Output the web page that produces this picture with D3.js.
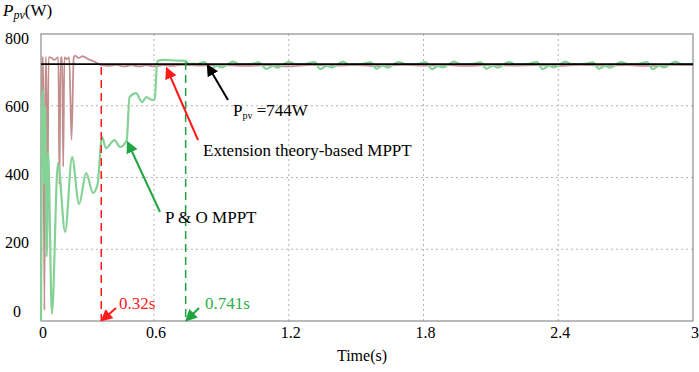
<!DOCTYPE html>
<html>
<head>
<meta charset="utf-8">
<script src="https://cdn.jsdelivr.net/npm/d3@7"></script>
<style>
  body { margin: 0; background: #fff; }
</style>
</head>
<body>
<div class="chart"></div>
<script>
// data
const xTicks = [0, 0.6, 1.2, 1.8, 2.4, 3];
const yTicks = [0, 200, 400, 600, 800];
const refPower = 716; // drawn level of the 744W reference line

// Extension theory-based MPPT (time s, power W)
const etTime = [0, 0.006, 0.012, 0.018, 0.024, 0.028, 0.034, 0.04, 0.046, 0.052, 0.07, 0.092, 0.098, 0.104, 0.112, 0.118, 0.124, 0.138, 0.15, 0.162, 0.174, 0.182, 0.2, 0.22, 0.25, 0.28, 0.3, 0.32,
  0.36, 0.4, 0.44, 0.48, 0.52, 0.56, 0.6, 0.64, 0.68, 0.72, 0.8, 0.9, 1.0, 1.1, 1.2, 1.3, 1.4, 1.5, 1.6, 1.7, 1.8, 1.9, 2.0, 2.1, 2.2, 2.3, 2.4, 2.5, 2.6, 2.7, 2.8, 2.9, 3.0];
const etPower = [0, 735, 735, 30, 735, 735, 200, 735, 735, 735, 728, 735, 380, 735, 735, 430, 735, 730, 735, 505, 735, 740, 733, 738, 730, 724, 718, 713,
  711, 714, 710, 713, 710, 713, 710, 713, 711, 714, 712, 714, 711, 713, 710, 714, 712, 713, 711, 714, 712, 713, 711, 714, 712, 713, 711, 714, 712, 713, 711, 714, 713];

// P&O MPPT (time s, power W)
const poTime = [0, 0.004, 0.01, 0.016, 0.022, 0.03, 0.038, 0.058, 0.09, 0.128, 0.165, 0.202, 0.24, 0.276, 0.3, 0.324, 0.345, 0.39, 0.42, 0.455, 0.47, 0.505, 0.536, 0.56, 0.59, 0.603, 0.615, 0.65, 0.7, 0.741, 0.755, 0.77,
  0.79, 0.825, 0.85, 0.88, 0.9, 0.93, 0.95, 0.98, 1.04,
  1.065, 1.10, 1.13, 1.15, 1.18, 1.2, 1.23, 1.28,
  1.315, 1.34, 1.37, 1.39, 1.42, 1.44, 1.47, 1.53,
  1.565, 1.59, 1.62, 1.64, 1.67, 1.69, 1.72, 1.78,
  1.81, 1.837, 1.865, 1.885, 1.915, 1.935, 1.965, 2.02,
  2.055, 2.08, 2.11, 2.13, 2.16, 2.18, 2.21, 2.27,
  2.305, 2.33, 2.36, 2.38, 2.41, 2.43, 2.46, 2.52,
  2.555, 2.58, 2.61, 2.63, 2.66, 2.68, 2.71, 2.76,
  2.795, 2.82, 2.85, 2.87, 2.9, 2.92, 2.95, 3.0];
const poPower = [0, 520, 645, 380, 600, 180, 470, 20, 440, 248, 457, 326, 412, 357, 380, 513, 482, 504, 485, 504, 624, 635, 610, 624, 616, 618, 725, 728, 726, 725, 716, 717,
  716, 722, 702, 712, 707, 716, 723, 716, 717,
  721, 703, 711, 706, 716, 722, 716, 717,
  722, 702, 712, 707, 716, 723, 715, 717,
  721, 703, 712, 706, 716, 722, 716, 717,
  722, 702, 711, 707, 716, 723, 716, 717,
  721, 703, 712, 706, 716, 722, 715, 717,
  722, 702, 712, 707, 716, 723, 716, 717,
  721, 703, 711, 706, 716, 722, 716, 717,
  722, 702, 712, 707, 716, 723, 716, 717];

const etSettle = 0.32;
const poSettle = 0.741;

const width = 699, height = 372;

const svg = d3.select('.chart')
  .append('svg')
  .attr('width', width)
  .attr('height', height)
  .attr('font-family', '"Times New Roman", "Liberation Serif", "DejaVu Serif", serif');

// first 0.6 s is squeezed in the original figure
const x = d3.scaleLinear()
  .domain([0, 0.6, 3])
  .range([41, 154, 693]);

const y = d3.scaleLinear()
  .domain([0, 800])
  .range([321, 34]);

// the tick labels sit slightly off the grid in the original
const yLabel = d3.scaleLinear()
  .domain([0, 800])
  .range([311, 38]);

// grid
svg.append('g')
  .selectAll('line')
  .data(xTicks.filter(d => d > 0 && d < 3))
  .enter().append('line')
    .attr('x1', d => x(d)).attr('x2', d => x(d))
    .attr('y1', y(800)).attr('y2', y(0))
    .attr('stroke', '#b5b5b5')
    .attr('stroke-width', 1)
    .attr('stroke-dasharray', '2,3');

svg.append('g')
  .selectAll('line')
  .data(yTicks.filter(d => d > 0 && d < 800))
  .enter().append('line')
    .attr('x1', x(0)).attr('x2', x(3))
    .attr('y1', d => y(d)).attr('y2', d => y(d))
    .attr('stroke', '#b5b5b5')
    .attr('stroke-width', 1)
    .attr('stroke-dasharray', '2,3');

// frame
svg.append('rect')
  .attr('x', x(0)).attr('y', y(800))
  .attr('width', x(3) - x(0))
  .attr('height', y(0) - y(800))
  .attr('fill', 'none')
  .attr('stroke', '#8c8c8c')
  .attr('stroke-width', 1.2);

// tick labels
svg.append('g')
  .selectAll('text')
  .data(xTicks)
  .enter().append('text')
    .attr('x', d => x(d) + 2)
    .attr('y', 332)
    .attr('dy', '0.35em')
    .attr('text-anchor', 'middle')
    .attr('font-size', 16)
    .text(d => d);

svg.append('g')
  .selectAll('text')
  .data(yTicks)
  .enter().append('text')
    .attr('x', 17)
    .attr('y', d => yLabel(d))
    .attr('dy', '0.35em')
    .attr('text-anchor', 'middle')
    .attr('font-size', 16)
    .text(d => d);

// axis titles
const yTitle = svg.append('text')
  .attr('x', 3).attr('y', 16)
  .attr('font-size', 17);
yTitle.append('tspan').attr('font-style', 'italic').text('P');
yTitle.append('tspan').attr('font-style', 'italic').attr('font-size', 12).attr('dy', 3).text('pv');
yTitle.append('tspan').attr('dy', -3).text('(W)');

svg.append('text')
  .attr('x', 362).attr('y', 355)
  .attr('dy', '0.35em')
  .attr('text-anchor', 'middle')
  .attr('font-size', 16)
  .text('Time(s)');

const line = d3.line()
  .x(d => x(d[0]))
  .y(d => y(d[1]))
  .curve(d3.curveMonotoneX);

const etData = etTime.map((t, i) => [t, etPower[i]]);
const poData = poTime.map((t, i) => [t, poPower[i]]);

// series
svg.append('path')
  .datum(etData)
  .attr('d', line)
  .attr('fill', 'none')
  .attr('stroke', '#b97a7a')
  .attr('stroke-width', 1.8)
  .attr('opacity', 0.85);

svg.append('path')
  .datum(poData)
  .attr('d', line)
  .attr('fill', 'none')
  .attr('stroke', '#85d297')
  .attr('stroke-width', 2.2);

svg.append('line')
  .attr('x1', x(0)).attr('x2', x(3))
  .attr('y1', y(refPower)).attr('y2', y(refPower))
  .attr('stroke', '#000')
  .attr('stroke-width', 1.6);

// settle markers
svg.append('line')
  .attr('x1', x(etSettle)).attr('x2', x(etSettle))
  .attr('y1', y(708)).attr('y2', y(0))
  .attr('stroke', '#ff1a1a')
  .attr('stroke-width', 1.5)
  .attr('stroke-dasharray', '8,5');

svg.append('line')
  .attr('x1', x(poSettle)).attr('x2', x(poSettle))
  .attr('y1', y(722)).attr('y2', y(0))
  .attr('stroke', '#1fa43f')
  .attr('stroke-width', 1.5)
  .attr('stroke-dasharray', '8,5');

// arrow heads
const defs = svg.append('defs');
[['arrRed', '#ff1a1a'], ['arrGreen', '#1fa43f'], ['arrBlack', '#000']].forEach(([id, c]) => {
  defs.append('marker')
    .attr('id', id)
    .attr('viewBox', '0 0 10 10')
    .attr('refX', 8).attr('refY', 5)
    .attr('markerWidth', 6).attr('markerHeight', 6)
    .attr('orient', 'auto')
    .append('path')
      .attr('d', 'M0,0 L10,5 L0,10 z')
      .attr('fill', c);
});

const arrow = (x1, y1, x2, y2, color, id) => {
  svg.append('line')
    .attr('x1', x1).attr('y1', y1)
    .attr('x2', x2).attr('y2', y2)
    .attr('stroke', color)
    .attr('stroke-width', 2)
    .attr('marker-end', `url(#${id})`);
};

arrow(228, 100, 208, 66, '#000', 'arrBlack');
arrow(198, 140, 167, 69, '#ff1a1a', 'arrRed');
arrow(160, 212, 128, 143, '#1fa43f', 'arrGreen');
arrow(116, 308, x(etSettle) + 1, 320, '#ff1a1a', 'arrRed');
arrow(199, 308, x(poSettle) + 1, 320, '#1fa43f', 'arrGreen');

// labels
const refLabel = svg.append('text')
  .attr('x', 233).attr('y', 110)
  .attr('dy', '0.35em')
  .attr('font-size', 17);
refLabel.append('tspan').text('P');
refLabel.append('tspan').attr('font-size', 10).attr('dy', 3).text('pv');
refLabel.append('tspan').attr('dy', -3).text(' =744W');

svg.append('text')
  .attr('x', 203).attr('y', 150)
  .attr('dy', '0.35em')
  .attr('font-size', 17)
  .text('Extension theory-based MPPT');

svg.append('text')
  .attr('x', 165).attr('y', 217)
  .attr('dy', '0.35em')
  .attr('font-size', 17)
  .text('P & O MPPT');

svg.append('text')
  .attr('x', 119).attr('y', 303)
  .attr('dy', '0.35em')
  .attr('font-size', 17)
  .attr('fill', '#ff1a1a')
  .text('0.32s');

svg.append('text')
  .attr('x', 205).attr('y', 303)
  .attr('dy', '0.35em')
  .attr('font-size', 17)
  .attr('fill', '#2bb04a')
  .text('0.741s');
</script>
</body>
</html>
